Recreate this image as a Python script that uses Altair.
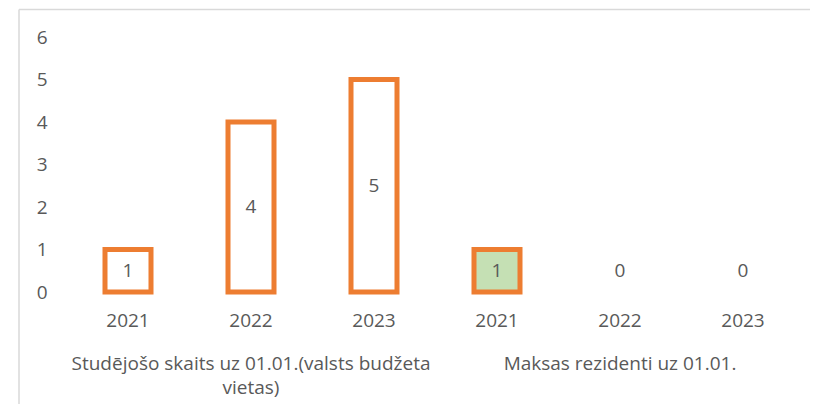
import altair as alt
import pandas as pd

groups = ["Studējošo skaits uz 01.01.(valsts budžeta\nvietas)", "Maksas rezidenti uz 01.01."]
years = ["2021", "2022", "2023"]
values_budget = [1, 4, 5]
values_paid = [1, 0, 0]
y_ticks = [0, 1, 2, 3, 4, 5, 6]

rows = []
for gi, (g, vals) in enumerate(zip(groups, [values_budget, values_paid])):
    for yr, v in zip(years, vals):
        rows.append({"group": g, "year": yr, "key": f"{gi}-{yr}", "value": v})
df = pd.DataFrame(rows)
keys = list(df["key"])

FONT = "Open Sans"
TXT = "#595959"
ORANGE = "#ED7D31"
FS = 19

x_enc = alt.X("key:N", sort=keys, scale=alt.Scale(domain=keys, paddingInner=0, paddingOuter=0), axis=None)
y_scale = alt.Scale(domain=[0, 6], nice=False)

base = alt.Chart(df)

bars = base.transform_filter("datum.value > 0").mark_bar(
    size=46, stroke=ORANGE, strokeWidth=5
).encode(
    x=x_enc,
    y=alt.Y("value:Q", scale=y_scale, title=None,
            axis=alt.Axis(values=y_ticks, grid=False, domain=False, ticks=False,
                          labelFont=FONT, labelFontSize=FS, labelColor=TXT,
                          labelPadding=19.5)),
    fill=alt.Fill("group:N", scale=alt.Scale(domain=groups, range=["#FFFFFF", "#C5E0B4"]), legend=None),
)

value_labels = base.transform_calculate(
    ly="datum.value > 0 ? datum.value / 2 : 0.5"
).mark_text(font=FONT, fontSize=FS, color=TXT, baseline="middle").encode(
    x=x_enc,
    y=alt.Y("ly:Q", scale=y_scale),
    text="value:Q",
)

year_labels = base.mark_text(font=FONT, fontSize=FS, color=TXT, baseline="middle").encode(
    x=x_enc,
    y=alt.value(284),
    text="year:N",
)

group_labels = base.transform_filter("datum.year == '2022'").mark_text(
    font=FONT, fontSize=FS, color=TXT, baseline="alphabetic", lineBreak="\n", lineHeight=24
).encode(
    x=x_enc,
    y=alt.value(333),
    text="group:N",
)

frame_df = pd.DataFrame({"a": [0]})
frame_top = alt.Chart(frame_df).mark_rule(color="#D9D9D9", strokeWidth=1.5).encode(
    x=alt.value(-47.5), x2=alt.value(743.5), y=alt.value(-27.5)
)
frame_left = alt.Chart(frame_df).mark_rule(color="#D9D9D9", strokeWidth=1.5).encode(
    x=alt.value(-47.5), y=alt.value(-27.5), y2=alt.value(367)
)

chart = alt.layer(frame_top, frame_left, bars, value_labels, year_labels, group_labels).properties(
    width=738,
    height=255,
    autosize=alt.AutoSizeParams(type="none"),
    padding={"left": 58.5, "top": 29, "right": 5.5, "bottom": 112},
    background="white",
).configure_view(stroke=None)

chart.save("out.html", embed_options={"renderer": "svg", "actions": False})
